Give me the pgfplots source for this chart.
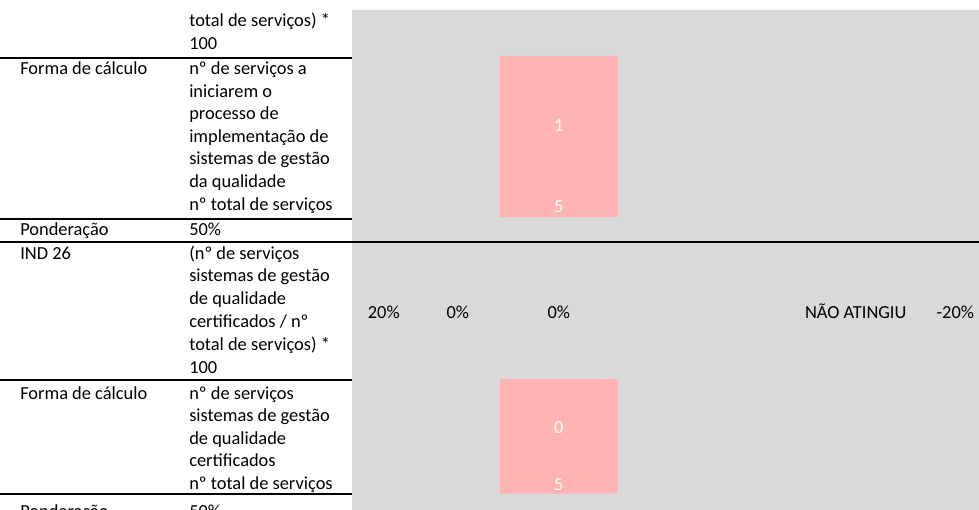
\documentclass[border=0pt]{standalone}
\usepackage{pgfplots}
\pgfplotsset{compat=1.18}
\usepackage{fontspec}
\setmainfont{Carlito}
\definecolor{cellgrey}{HTML}{D9D9D9}
\definecolor{cellpink}{HTML}{FFB3B3}
\newcommand\T[3]{\node[anchor=base west, inner sep=0pt, font=\fontsize{13.8}{16}\selectfont] at (axis cs:#1,#2) {#3};}
\newcommand\C[3]{\node[anchor=base, inner sep=0pt, font=\fontsize{13.8}{16}\selectfont] at (axis cs:#1,#2) {#3};}
\newcommand\W[3]{\node[anchor=base, inner sep=0pt, text=white, font=\fontsize{13.8}{16}\selectfont] at (axis cs:#1,#2) {#3};}
\begin{document}
\begin{tikzpicture}
\begin{axis}[name=ax, x=0.75pt, y=0.75pt, xmin=0, xmax=979, ymin=0, ymax=510,
  y dir=reverse, hide axis, enlargelimits=false, clip=true]
% grey cell block
\addplot[fill=cellgrey, draw=none] coordinates {(352,10) (979,10) (979,510) (352,510) (352,10)};
% pink cells (1 of 5, 0 of 5)
\addplot[fill=cellpink, draw=none] coordinates {(500,56) (617.7,56) (617.7,217) (500,217) (500,56)};
\addplot[fill=cellpink, draw=none] coordinates {(500,379) (617.7,379) (617.7,493.7) (500,493.7) (500,379)};
% borders
\addplot[black, line width=1.5pt] coordinates {(0,57.7) (352,57.7)};
\addplot[black, line width=1.5pt] coordinates {(0,219) (352,219)};
\addplot[black, line width=1.5pt] coordinates {(0,242.3) (979,242.3)};
\addplot[black, line width=1.5pt] coordinates {(0,380) (352,380)};
\addplot[black, line width=1.5pt] coordinates {(0,494.3) (352,494.3)};
% block 1
\T{189}{27}{total de serviços) *}
\T{189}{49.5}{100}
% block 2
\T{20}{75}{Forma de cálculo}
\T{189}{75}{nº de serviços a}
\T{189}{97.5}{iniciarem o}
\T{189}{120}{processo de}
\T{189}{142.5}{implementação de}
\T{189}{165}{sistemas de gestão}
\T{189}{187.5}{da qualidade}
\T{189}{210}{nº total de serviços}
% block 3
\T{20}{235}{Ponderação}
\T{189}{235}{50\%}
% block 4
\T{20}{259}{IND 26}
\T{189}{259}{(nº de serviços}
\T{189}{281.8}{sistemas de gestão}
\T{189}{304.6}{de qualidade}
\T{189}{327.4}{certificados / nº}
\T{189}{350.2}{total de serviços) *}
\T{189}{373}{100}
% block 5
\T{20}{399}{Forma de cálculo}
\T{189}{399}{nº de serviços}
\T{189}{421.5}{sistemas de gestão}
\T{189}{444}{de qualidade}
\T{189}{466.5}{certificados}
\T{189}{489}{nº total de serviços}
% block 6
\T{20}{517}{Ponderação}
\T{189}{517}{50\%}
% percent row
\C{383.8}{318}{20\%}
\C{457.8}{318}{0\%}
\C{558.8}{318}{0\%}
\C{855.7}{318}{NÃO ATINGIU}
\node[anchor=base east, inner sep=0pt, font=\fontsize{13.8}{16}\selectfont] at (axis cs:974.3,318) {-20\%};
% pink labels
\W{558.8}{132}{1}
\W{558.8}{212}{5}
\W{558.8}{433}{0}
\W{558.8}{490.7}{5}
\end{axis}
\pgfresetboundingbox
\path[use as bounding box] (ax.south west) rectangle (ax.north east);
\end{tikzpicture}
\end{document}
